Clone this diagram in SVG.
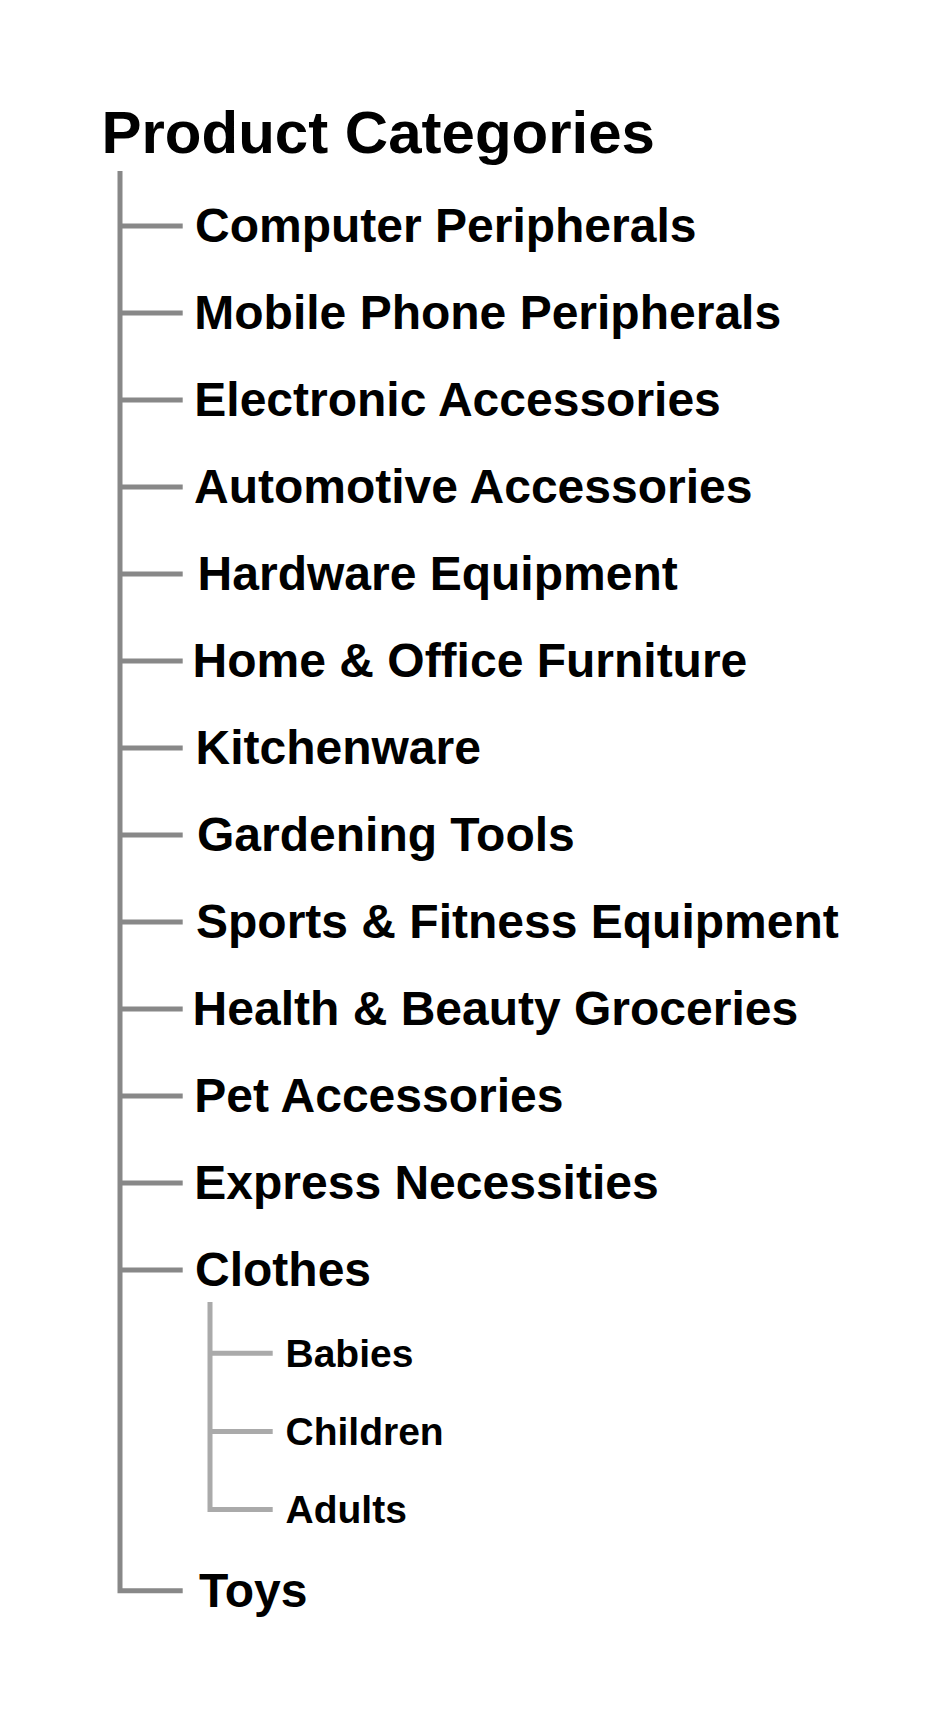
<svg xmlns="http://www.w3.org/2000/svg" width="942" height="1716" viewBox="0 0 942 1716">
<style>
text{font-family:"Liberation Sans",Arial,sans-serif;font-weight:bold;fill:#000}
.title{font-size:60px}
.item{font-size:48px}
.sub{font-size:39px}
.main{stroke:#888;stroke-width:5;fill:none}
.minor{stroke:#aaa;stroke-width:5;fill:none}
</style>
<rect width="942" height="1716" fill="#fff"/>
<g id="connectors">
<path class="main" d="M120 171V1590.7H182.7"/>
<path class="main" d="M120 226H182.7M120 313H182.7M120 400H182.7M120 487H182.7M120 574H182.7M120 661H182.7M120 748H182.7M120 835H182.7M120 922H182.7M120 1009H182.7M120 1096H182.7M120 1183H182.7M120 1270H182.7"/>
<path class="minor" d="M210 1302V1509.5H272.7M210 1353.3H272.7M210 1431.5H272.7"/>
</g>
<g id="title"><text class="title" x="101.5" y="152.7">Product Categories</text></g>
<g id="computer"><text class="item" x="195" y="242">Computer Peripherals</text></g>
<g id="mobile"><text class="item" x="194.3" y="329">Mobile Phone Peripherals</text></g>
<g id="electronic"><text class="item" x="194.3" y="416">Electronic Accessories</text></g>
<g id="automotive"><text class="item" x="194" y="503">Automotive Accessories</text></g>
<g id="hardware"><text class="item" x="197.6" y="590">Hardware Equipment</text></g>
<g id="home"><text class="item" x="192.6" y="677">Home &amp; Office Furniture</text></g>
<g id="kitchen"><text class="item" x="195.5" y="764">Kitchenware</text></g>
<g id="garden"><text class="item" x="197" y="851">Gardening Tools</text></g>
<g id="sports"><text class="item" x="196" y="938">Sports &amp; Fitness Equipment</text></g>
<g id="health"><text class="item" x="192.6" y="1025">Health &amp; Beauty Groceries</text></g>
<g id="pet"><text class="item" x="194.3" y="1112">Pet Accessories</text></g>
<g id="express"><text class="item" x="194.3" y="1199">Express Necessities</text></g>
<g id="clothes"><text class="item" x="195" y="1286">Clothes</text></g>
<g id="babies"><text class="sub" x="285.5" y="1366.7">Babies</text></g>
<g id="children"><text class="sub" x="285.5" y="1445">Children</text></g>
<g id="adults"><text class="sub" x="285.5" y="1523">Adults</text></g>
<g id="toys"><text class="item" x="199" y="1607">Toys</text></g>
</svg>
